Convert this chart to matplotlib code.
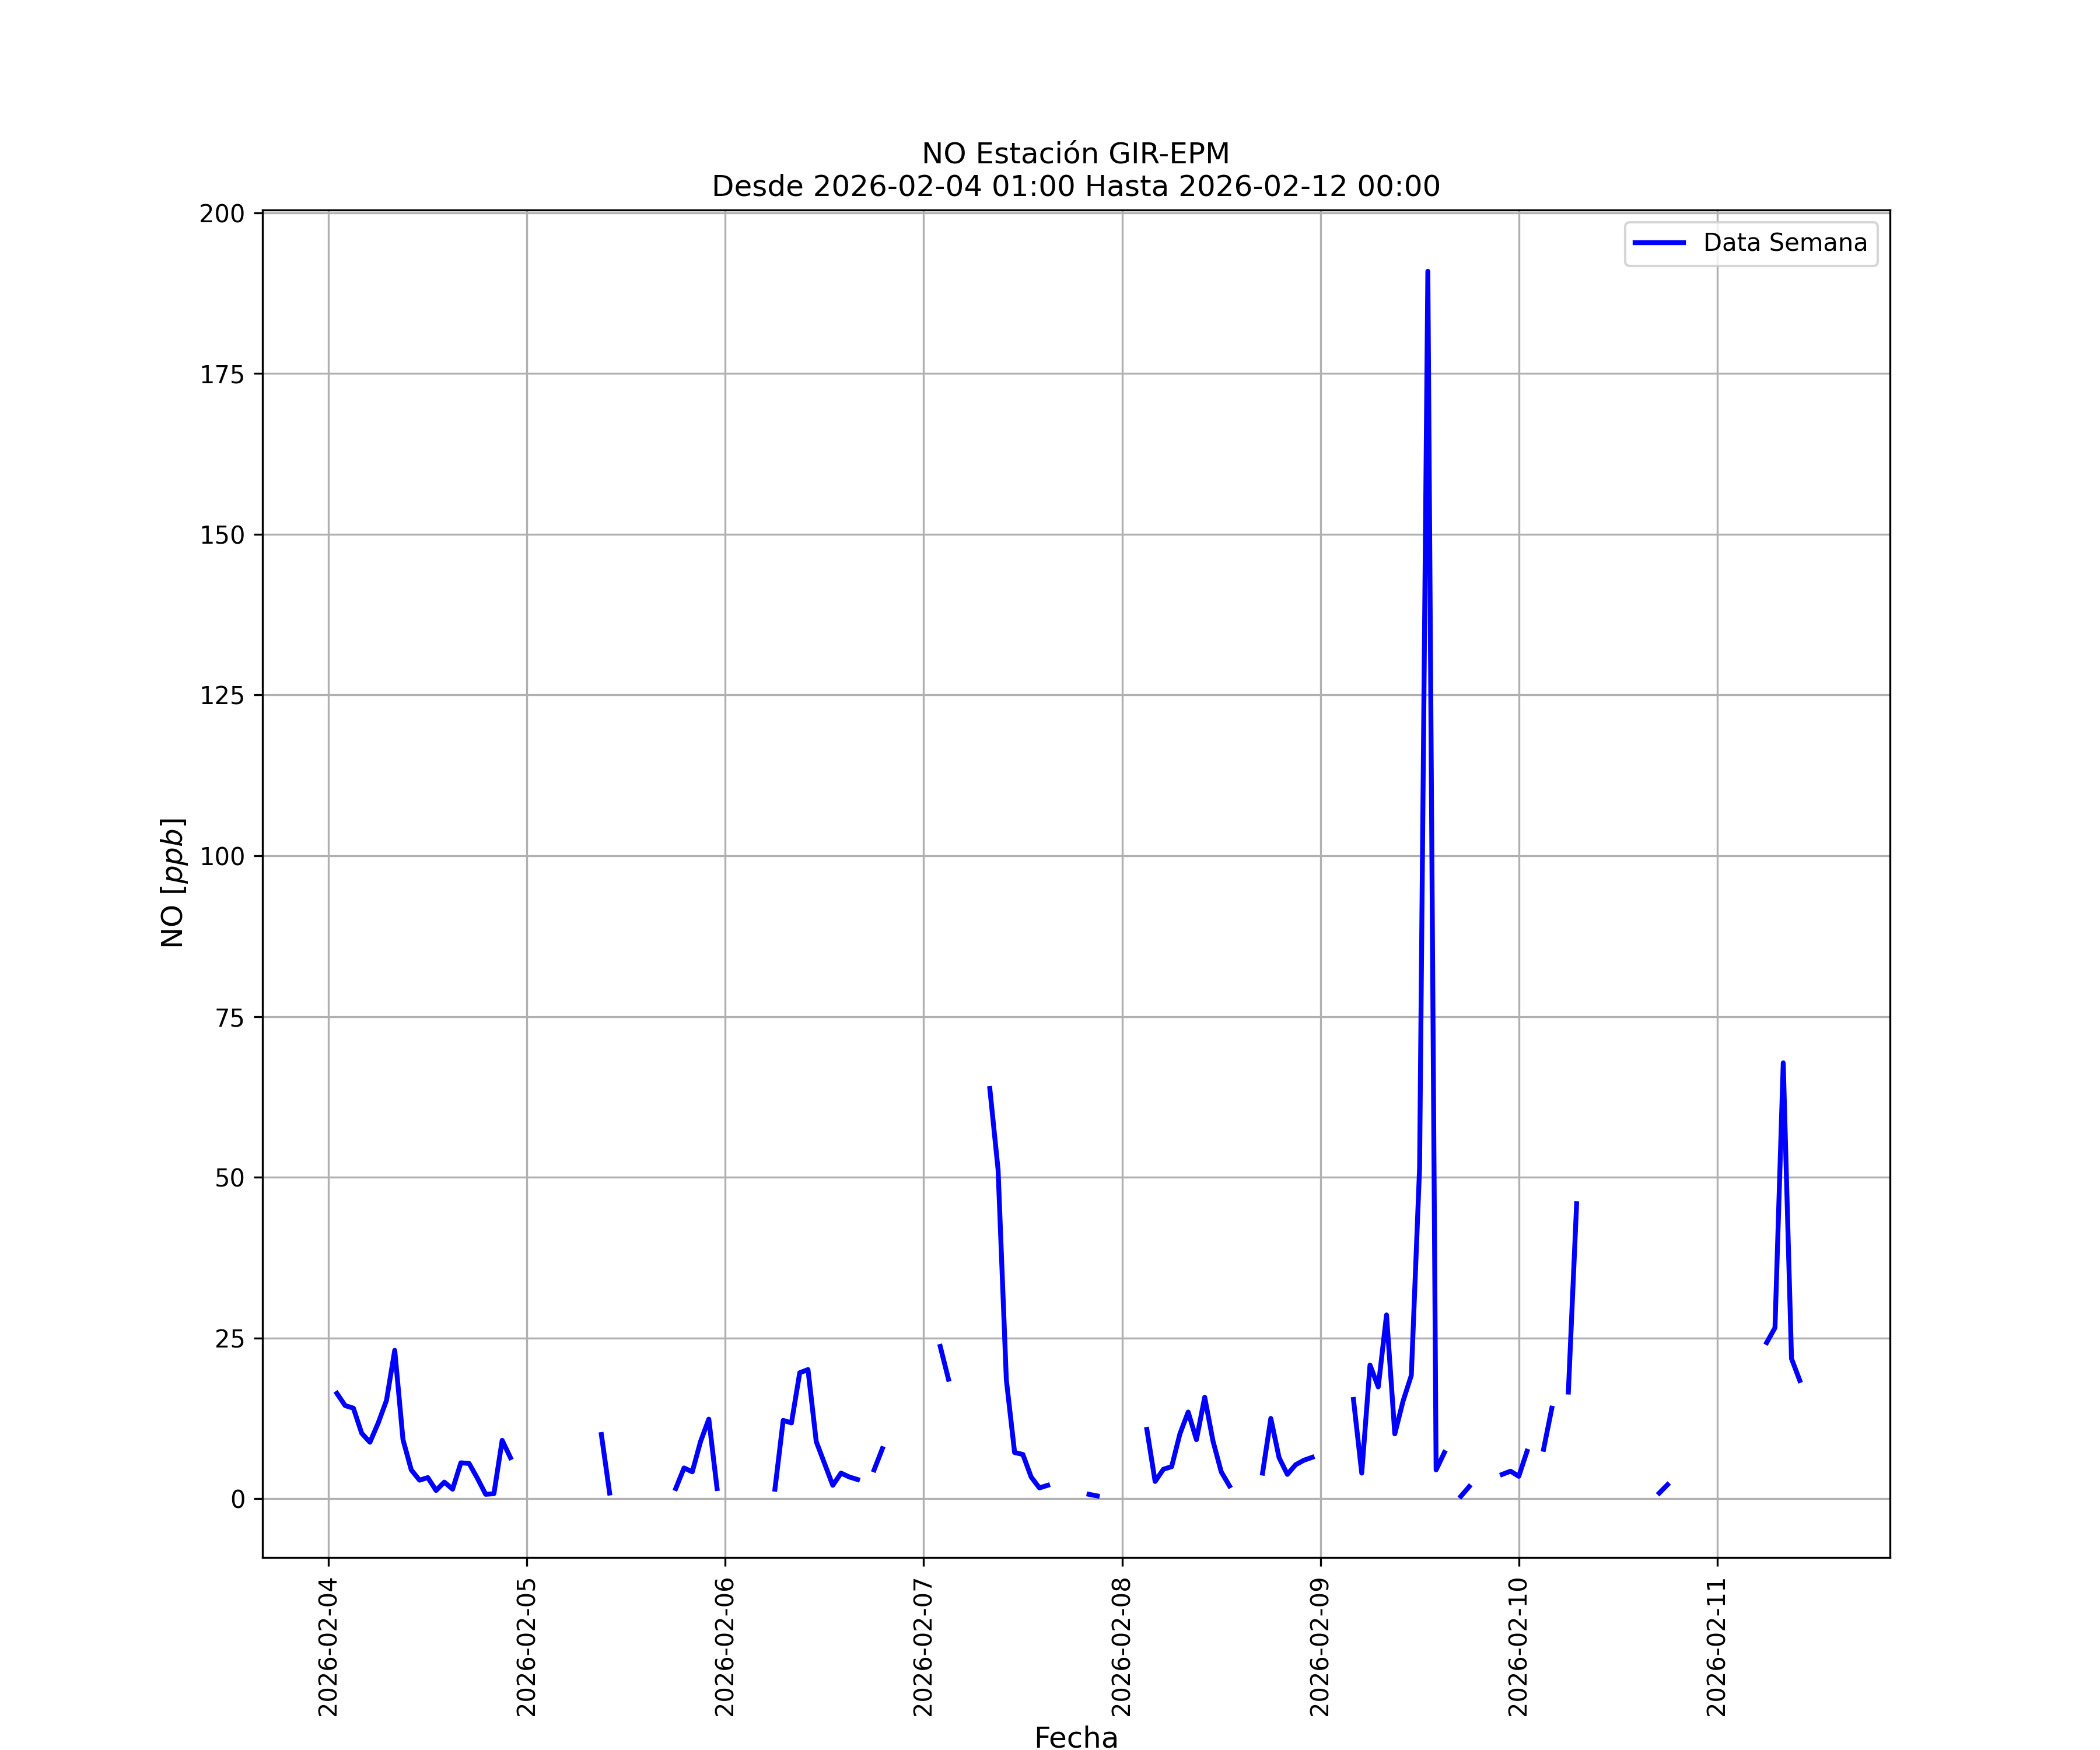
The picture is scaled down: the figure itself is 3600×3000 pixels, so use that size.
import numpy as np
import pandas as pd
import matplotlib
matplotlib.use('Agg')
import matplotlib.pyplot as plt
import matplotlib.dates as mdates

nan = np.nan

# valores horarios de NO [ppb] por dia (hora 00..23), NaN = sin dato
d04 = [16.4, 14.5, 14.1, 10.2, 8.8, 11.8, 15.3, 23.1, 9.2, 4.5, 2.9, 3.3,
       1.3, 2.6, 1.5, 5.6, 5.5, 3.2, 0.7, 0.8, 9.1, 6.4, nan]  # desde 01:00
d05 = [nan, nan, nan, nan, nan, nan, nan, nan, nan, 10.0, 0.9, nan,
       nan, nan, nan, nan, nan, nan, 1.6, 4.8, 4.2, 8.9, 12.4, 1.6]
d06 = [nan, nan, nan, nan, nan, nan, 1.5, 12.2, 11.8, 19.6, 20.1, 8.9,
       5.5, 2.1, 4.0, 3.4, 3.0, nan, 4.5, 7.8, nan, nan, nan, nan]
d07 = [nan, nan, 23.7, 18.6, nan, nan, nan, nan, 63.8, 51.2, 18.5, 7.2,
       6.9, 3.4, 1.7, 2.1, nan, nan, nan, nan, 0.7, 0.45, nan, nan]
d08 = [nan, nan, nan, 10.8, 2.7, 4.6, 5.0, 10.1, 13.5, 9.2, 15.8, 9.0,
       4.2, 2.0, nan, nan, nan, 4.0, 12.5, 6.4, 3.8, 5.3, 6.0, 6.45]
d09 = [nan, nan, nan, nan, 15.45, 4.0, 20.8, 17.4, 28.6, 10.1, 15.2, 19.2,
       51.5, 190.9, 4.5, 7.2, nan, 0.4, 1.9, nan, nan, nan, 3.8, 4.3]
d10 = [3.5, 7.4, nan, 7.7, 14.1, nan, 16.6, 45.9, nan, nan, nan, nan,
       nan, nan, nan, nan, nan, 0.9, 2.2, nan, nan, nan, nan, nan]
d11 = [nan, nan, nan, nan, nan, nan, 24.3, 26.6, 67.8, 21.8, 18.4, nan,
       nan, nan, nan, nan, nan, nan, nan, nan, nan, nan, nan, nan]
d12 = [nan]  # 00:00

fechas = pd.date_range('2026-02-04 01:00', '2026-02-12 00:00', freq='h')
valores = d04 + d05 + d06 + d07 + d08 + d09 + d10 + d11 + d12
serie = pd.Series(valores, index=fechas)

fig, ax = plt.subplots(figsize=(12, 10), dpi=300)
ax.plot(serie.index, serie.values, color='b', linewidth=2, label='Data Semana')

ax.set_title('NO Estación GIR-EPM\nDesde 2026-02-04 01:00 Hasta 2026-02-12 00:00', fontsize=12)
ax.set_xlabel('Fecha', fontsize=12)
ax.set_ylabel('NO [$ppb$]', fontsize=12)
ax.set_xlim(pd.Timestamp('2026-02-03 16:00'), pd.Timestamp('2026-02-11 20:55'))
ax.xaxis.set_major_locator(mdates.DayLocator())
ax.xaxis.set_major_formatter(mdates.DateFormatter('%Y-%m-%d'))
plt.setp(ax.get_xticklabels(), rotation=90)
ax.grid(True)
ax.legend(loc='upper right')

fig.savefig('out.png')
plt.close(fig)
